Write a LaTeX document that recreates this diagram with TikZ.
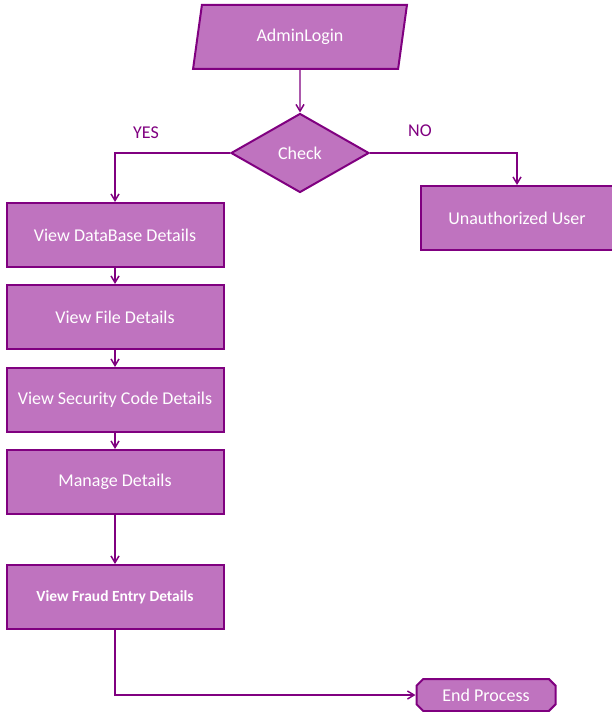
\documentclass[tikz,border=0pt]{standalone}
\usepackage{fontspec}
\setmainfont{Carlito}
\usetikzlibrary{shapes.geometric,shapes.misc,arrows.meta}
\definecolor{boxfill}{HTML}{BF73BF}
\definecolor{boxline}{HTML}{800080}
\begin{document}
\begin{tikzpicture}[x=0.75pt, y=-0.75pt]

\tikzstyle{box}=[draw=boxline, fill=boxfill, line width=1.5pt, minimum width=217*0.75pt, minimum height=64*0.75pt, align=center, text=white, font=\fontsize{13.5}{15}\selectfont]
\tikzstyle{arrow}=[-{Straight Barb[length=5pt,width=6pt]}, draw=boxline, line width=1.1pt]
\tikzstyle{lbl}=[text=boxline, font=\fontsize{13.5}{15}\selectfont]

\useasboundingbox (0,0) rectangle (611,712);

% Top: login + decision
\node[box, trapezium, trapezium left angle=80, trapezium right angle=100, trapezium stretches=true, minimum width=215*0.75pt] (login) at (300,37) {AdminLogin};
\node[box, diamond, minimum width=138*0.75pt, minimum height=79*0.75pt, inner sep=0pt] (check) at (300,153) {Check};

\draw[arrow] (login.south) -- (check.north);

% Branches
\node[box, minimum width=192*0.75pt] (unauth) at (517,218) {Unauthorized User};
\node[box] (dbase) at (115,235) {View DataBase Details};

\draw[arrow] (check.west) -| (dbase.north);
\draw[arrow] (check.east) -| (unauth.north);
\node[lbl] (yes) at (146,133) {YES};
\node[lbl] (no) at (420,131) {NO};

% Left column
\node[box] (files) at (115,317) {View File Details};
\node[box] (seccode) at (115,400) {View Security Code Details};
\node[box] (manage) at (115,482) {Manage Details};
\node[box, font=\bfseries\fontsize{11.6}{13}\selectfont] (fraud) at (115,597) {View Fraud Entry Details};

\draw[arrow] (dbase.south) -- (files.north);
\draw[arrow] (files.south) -- (seccode.north);
\draw[arrow] (seccode.south) -- (manage.north);
\draw[arrow] (manage.south) -- (fraud.north);

% End
\node[box, chamfered rectangle, chamfered rectangle xsep=2.5pt, chamfered rectangle ysep=2.5pt, minimum width=139*0.75pt, minimum height=32*0.75pt, inner sep=0pt] (endp) at (486,695) {End Process};

\draw[arrow] (fraud.south) |- (endp.west);

\end{tikzpicture}
\end{document}
